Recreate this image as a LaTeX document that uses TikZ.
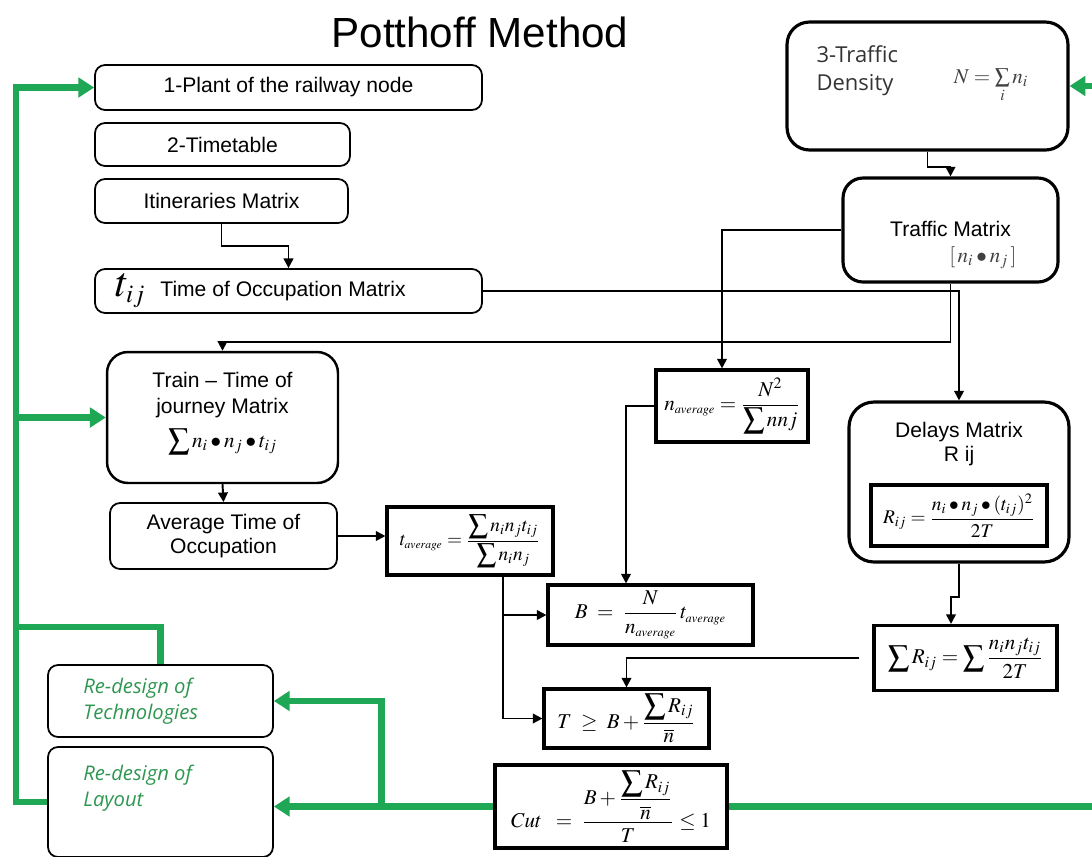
\documentclass[tikz,border=0pt]{standalone}
\usepackage{amsmath}
\usepackage{mathptmx}
\usepackage[no-math]{fontspec}
\setmainfont{Liberation Sans}
\newfontfamily\greenfont{Open Sans}
\usetikzlibrary{arrows.meta,positioning}
\definecolor{lgreen}{RGB}{30,168,85}
\definecolor{gtxt}{RGB}{45,150,80}
\tikzstyle{rbox} = [draw, rounded corners=0.2cm, line width=1pt]
\tikzstyle{bigbox} = [draw, rounded corners=0.45cm, line width=1.8pt]
\tikzstyle{fbox} = [draw, line width=1.8pt, inner sep=1pt]
\tikzstyle{link} = [draw, line width=1.1pt, ->]
\tikzstyle{gline} = [draw=lgreen, line width=3.6pt, -{Triangle[length=9pt,width=11pt]}]
\tikzstyle{gtext} = [text=gtxt, font=\greenfont\itshape\fontsize{11.5}{14.5}\selectfont, align=left]

\begin{document}
\begin{tikzpicture}[x=0.02cm,y=-0.02cm,>={Triangle[length=5.5pt,width=5.5pt]},
  every node/.style={font=\fontsize{12}{14}\selectfont}]

  \useasboundingbox (0,0) rectangle (1092,856);
  \clip (0,0) rectangle (1092,856);

  \node (title) at (480,32) {\fontsize{24}{28}\selectfont Potthoff Method};

  \node[rbox, minimum width=7.74cm, minimum height=0.9cm] (plant) at (288.5,87.5) {1-Plant of the railway node};
  \node[rbox, minimum width=5.1cm, minimum height=0.86cm] (timet) at (222.5,144.5) {2-Timetable};
  \node[rbox, minimum width=5.06cm, minimum height=0.88cm] (itin) at (221.5,201) {Itineraries Matrix};
  \node[rbox, minimum width=7.74cm, minimum height=0.88cm] (occup) at (288.5,291) {};
  \node[anchor=west] (occuptxt) at ([xshift=0.3cm]occup.west)
    {{\fontsize{24}{24}\selectfont$t_{\scriptscriptstyle ij}$}\hspace{0.3cm}Time of Occupation Matrix};

  \node[bigbox, line width=1.4pt, rounded corners=0.42cm, minimum width=4.62cm, minimum height=2.62cm] (train) at (222.5,417.5) {};
  \node[align=center] (traintxt) at ([yshift=0.08cm]train.center)
    {Train -- Time of\\[1pt]journey Matrix\\[5pt]$\displaystyle\sum n_i\bullet n_j\bullet t_{ij}$};
  \node[rbox, minimum width=4.54cm, minimum height=1.32cm, align=center] (avg) at (223.5,536) {Average Time of\\Occupation};

  \node[fbox, minimum width=3.32cm, minimum height=1.36cm] (tavg) at (470,541)
    {\fontsize{11}{13}\selectfont$t_{\scriptscriptstyle average}=\dfrac{\displaystyle\sum n_in_jt_{ij}}{\displaystyle\sum n_in_j}$};
  \node[fbox, minimum width=3.04cm, minimum height=1.44cm] (navg) at (732,406)
    {$n_{\scriptscriptstyle average}=\dfrac{N^2}{\displaystyle\sum nnj}$};
  \node[fbox, minimum width=4.1cm, minimum height=1.2cm] (bbox) at (650.5,615)
    {$B\;=\;\dfrac{\;\;N\;\;}{n_{\scriptscriptstyle average}}\,t_{\scriptscriptstyle average}$};
  \node[fbox, minimum width=3.3cm, minimum height=1.18cm] (tbox) at (626.5,718.5)
    {$T\;\geq\;B+\dfrac{\displaystyle\sum R_{ij}}{\overline{n}}$};
  \node[fbox, minimum width=4.64cm, minimum height=1.66cm] (cut) at (611,806.5)
    {$Cut\;\;=\;\dfrac{B+\dfrac{\displaystyle\sum R_{ij}}{\overline{n}}}{T}\leq 1$};

  \node[bigbox, minimum width=5.62cm, minimum height=2.56cm] (dens) at (927.5,86) {};
  \node[anchor=west, align=left, font=\greenfont\fontsize{12.5}{16}\selectfont, text=black!80] (denstxt)
    at ([xshift=0.5cm,yshift=0.3cm]dens.west) {3-Traffic\\Density};
  \node[text=black!75] (densf) at ([xshift=1.27cm]dens.center) {$N=\sum\limits_i n_i$};

  \node[bigbox, rounded corners=0.4cm, minimum width=4.3cm, minimum height=2.08cm] (traffic) at (950.5,230) {};
  \node[inner sep=1pt] (traffictxt) at ([yshift=0.02cm]traffic.center) {Traffic Matrix};
  \node[text=black!75, inner sep=1pt] (trafficf) at ([xshift=0.65cm,yshift=-0.56cm]traffic.center) {$[\,n_i\bullet n_j\,]$};

  \node[bigbox, rounded corners=0.5cm, minimum width=4.4cm, minimum height=3.2cm] (delays) at (959,482) {};
  \node[align=center] (delaystxt) at ([yshift=0.76cm]delays.center) {Delays Matrix\\R ij};
  \node[fbox, minimum width=3.52cm, minimum height=1.22cm] (rij) at (959,515.5)
    {\fontsize{11}{13}\selectfont$R_{ij}=\dfrac{n_i\bullet n_j\bullet(t_{ij})^2}{2T}$};
  \node[fbox, minimum width=3.66cm, minimum height=1.3cm] (sumr) at (965.5,658)
    {$\displaystyle\sum R_{ij}=\sum\frac{n_in_jt_{ij}}{2T}$};

  \node[rbox, minimum width=4.5cm, minimum height=1.44cm] (tech) at (160.5,701) {};
  \node[gtext, anchor=west] (techtxt) at ([xshift=0.6cm]tech.west) {Re-design of\\Technologies};
  \node[rbox, minimum width=4.5cm, minimum height=2.2cm] (layout) at (160.5,802) {};
  \node[gtext, anchor=west] (layouttxt) at ([xshift=0.6cm,yshift=0.28cm]layout.west) {Re-design of\\Layout};

  \path[link] (itin.south) -- ++(0,22) -| (occup.north);
  \path[link] (dens.south) -- ++(0,15) -| (traffic.north);
  \path[link] (traffic.west) -| ([xshift=-0.2cm]navg.north);
  \path[link] (occup.east) -| (delays.north);
  \path[link] (traffic.south) -- ++(0,58) -| (train.north);
  \path[link] (train.south) -- (avg.north);
  \path[link] (avg.east) -- (avg.east -| tavg.west);
  \path[link] (navg.west) -| ([xshift=-0.49cm]bbox.north);
  \coordinate (tsplit) at ([xshift=0.66cm]tavg.south);
  \path[link] (tsplit) |- (tbox.west);
  \path[link] (tsplit |- bbox.west) -- (bbox.west);
  \path[link] (delays.south) -- ++(0,33) -| ([xshift=-0.29cm]sumr.north);
  \path[link] ([xshift=-0.26cm]sumr.west) -| (tbox.north);

  \path[gline] (cut.east) -- ++(400,0) |- (dens.east);
  \path[gline] (cut.west) -- (cut.west -| layout.east);
  \coordinate (gsplit) at ([xshift=-2.24cm]cut.west);
  \path[gline] (gsplit) |- (tech.east);
  \coordinate (gleft) at ([xshift=-0.62cm]layout.west);
  \path[gline] (layout.west) -- (gleft) |- (plant.west);
  \path[gline] (gleft |- train.west) -- (train.west);
  \path[gline, -] (tech.north) -- ++(0,-37) -| (gleft);

\end{tikzpicture}
\end{document}
